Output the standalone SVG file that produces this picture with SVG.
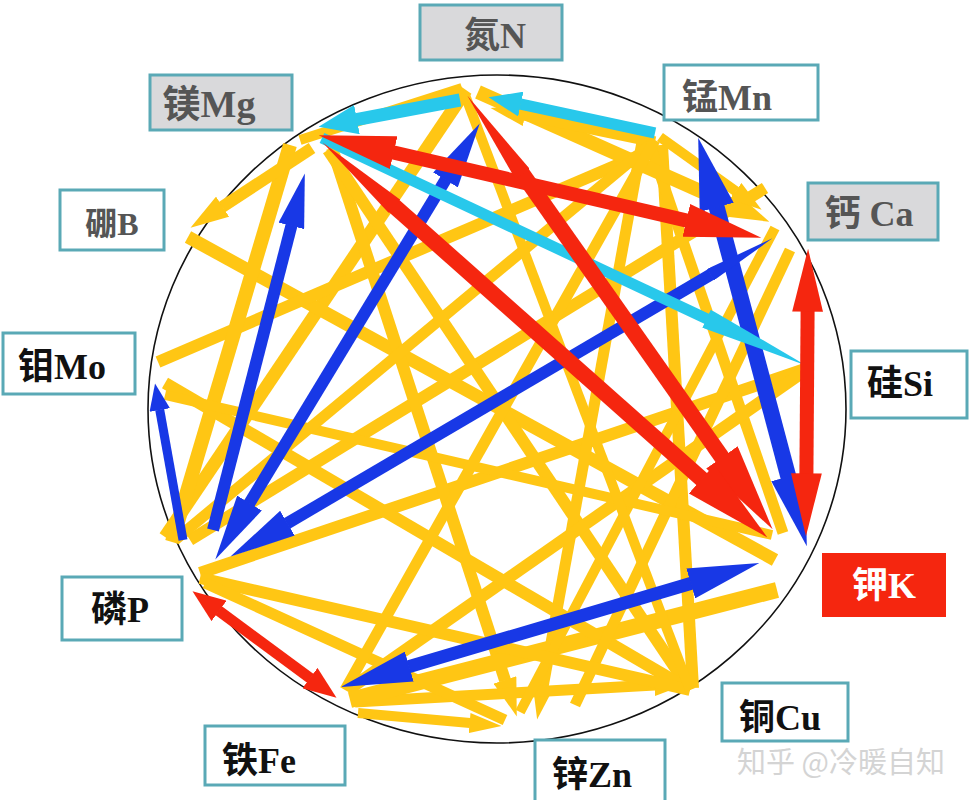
<svg xmlns="http://www.w3.org/2000/svg" width="969" height="800" viewBox="0 0 969 800">
<style>
.y{stroke:#FFC614;fill:none}
.r{stroke:#F5260F;fill:none}
.b{stroke:#1838E6;fill:none}
.c{stroke:#28C8EB;fill:none}
.box{stroke:#5AA9B6;stroke-width:3}
.grey{fill:#D9D9DB}
.white{fill:#FFFFFF}
.lbl{font-family:"Liberation Serif","Noto Sans CJK SC",serif;font-weight:bold;font-size:36px;text-anchor:middle}
.dk{fill:#555555}
.bk{fill:#111111}
</style>
<defs>
<marker id="mY" viewBox="0 -1 3.2 2" refX="0.05" refY="0" markerWidth="3.2" markerHeight="2" markerUnits="strokeWidth" orient="auto-start-reverse"><path d="M0,-1 L3.2,0 L0,1 Z" fill="#FFC614"/></marker>
<marker id="rB" viewBox="0 -1.2 5.5 2.4" refX="0.05" refY="0" markerWidth="5.5" markerHeight="2.4" markerUnits="strokeWidth" orient="auto-start-reverse"><path d="M0,-1.2 L5.5,0 L0,1.2 Z" fill="#F5260F"/></marker>
<marker id="rT" viewBox="0 -0.55 6 1.1" refX="0.05" refY="0" markerWidth="6" markerHeight="1.1" markerUnits="strokeWidth" orient="auto-start-reverse"><path d="M0,-0.55 L6,0 L0,0.55 Z" fill="#F5260F"/></marker>
<marker id="rA" viewBox="0 -1.1 4.5 2.2" refX="0.05" refY="0" markerWidth="4.5" markerHeight="2.2" markerUnits="strokeWidth" orient="auto-start-reverse"><path d="M0,-1.1 L4.5,0 L0,1.1 Z" fill="#F5260F"/></marker>
<marker id="rS" viewBox="0 -1.15 3 2.3" refX="0.05" refY="0" markerWidth="3" markerHeight="2.3" markerUnits="strokeWidth" orient="auto-start-reverse"><path d="M0,-1.15 L3,0 L0,1.15 Z" fill="#F5260F"/></marker>
<marker id="bA" viewBox="0 -1.1 4.5 2.2" refX="0.05" refY="0" markerWidth="4.5" markerHeight="2.2" markerUnits="strokeWidth" orient="auto-start-reverse"><path d="M0,-1.1 L4.5,0 L0,1.1 Z" fill="#1838E6"/></marker>
<marker id="bB" viewBox="0 -1.2 5.5 2.4" refX="0.05" refY="0" markerWidth="5.5" markerHeight="2.4" markerUnits="strokeWidth" orient="auto-start-reverse"><path d="M0,-1.2 L5.5,0 L0,1.2 Z" fill="#1838E6"/></marker>
<marker id="bT" viewBox="0 -0.55 6 1.1" refX="0.05" refY="0" markerWidth="6" markerHeight="1.1" markerUnits="strokeWidth" orient="auto-start-reverse"><path d="M0,-0.55 L6,0 L0,0.55 Z" fill="#1838E6"/></marker>
<marker id="bS" viewBox="0 -1.15 3 2.3" refX="0.05" refY="0" markerWidth="3" markerHeight="2.3" markerUnits="strokeWidth" orient="auto-start-reverse"><path d="M0,-1.15 L3,0 L0,1.15 Z" fill="#1838E6"/></marker>
<marker id="cS" viewBox="0 -1.15 3 2.3" refX="0.05" refY="0" markerWidth="3" markerHeight="2.3" markerUnits="strokeWidth" orient="auto-start-reverse"><path d="M0,-1.15 L3,0 L0,1.15 Z" fill="#28C8EB"/></marker>
<marker id="cL" viewBox="0 -0.9 10 1.8" refX="0.05" refY="0" markerWidth="10" markerHeight="1.8" markerUnits="strokeWidth" orient="auto-start-reverse"><path d="M0,-0.9 L10,0 L0,0.9 Z" fill="#28C8EB"/></marker>
</defs>
<rect x="0" y="0" width="969" height="800" fill="#FFFFFF"/>
<ellipse id="circle" cx="497" cy="409" rx="349" ry="334" fill="none" stroke="#111" stroke-width="1.6"/>
<g id="connectors">
<g id="yellow">
<line class="y" stroke-width="13" x1="165" y1="537" x2="466" y2="90"/>
<line class="y" stroke-width="12" x1="190" y1="540" x2="765" y2="188"/>
<line class="y" stroke-width="12" x1="200" y1="573" x2="808" y2="368"/>
<line class="y" stroke-width="13" x1="188" y1="237" x2="775" y2="560"/>
<line class="y" stroke-width="12" x1="158" y1="362" x2="652" y2="150"/>
<line class="y" stroke-width="14" x1="290" y1="145" x2="172" y2="542"/>
<line class="y" stroke-width="12" x1="312" y1="148" x2="222.1" y2="207" marker-end="url(#mY)"/>
<line class="y" stroke-width="12" x1="332" y1="148" x2="505.1" y2="680.5" marker-end="url(#mY)"/>
<line class="y" stroke-width="12" x1="328" y1="150" x2="690" y2="690"/>
<line class="y" stroke-width="11" x1="642" y1="142" x2="543.3" y2="685.4" marker-end="url(#mY)"/>
<line class="y" stroke-width="12" x1="662" y1="145" x2="693" y2="688"/>
<line class="y" stroke-width="11" x1="650" y1="145" x2="783" y2="533"/>
<line class="y" stroke-width="12" x1="348" y1="690" x2="806" y2="370"/>
<line class="y" stroke-width="10" x1="358" y1="713" x2="470.1" y2="723.1" marker-end="url(#mY)"/>
<line class="y" stroke-width="11" x1="355" y1="702" x2="654.9" y2="685" marker-end="url(#mY)"/>
<line class="y" stroke-width="16" x1="350" y1="700" x2="777" y2="590"/>
<line class="y" stroke-width="12" x1="165" y1="383" x2="690" y2="690"/>
<line class="y" stroke-width="14" x1="478" y1="92" x2="729.1" y2="203.8" marker-end="url(#mY)"/>
<line class="y" stroke-width="10" x1="660" y1="137" x2="736" y2="191.4" marker-end="url(#mY)"/>
<line class="y" stroke-width="10" x1="462" y1="88" x2="300" y2="140"/>
<line class="y" stroke-width="11" x1="655" y1="142" x2="524.5" y2="115.1" marker-end="url(#mY)"/>
<line class="y" stroke-width="11" x1="790" y1="250" x2="575" y2="705"/>
<line class="y" stroke-width="10" x1="775" y1="228" x2="520" y2="712"/>
<line class="y" stroke-width="12" x1="200" y1="578" x2="690" y2="690"/>
<line class="y" stroke-width="11" x1="205" y1="583" x2="505" y2="720"/>
<line class="y" stroke-width="10" x1="165" y1="395" x2="772" y2="535"/>
<line class="y" stroke-width="11" x1="175" y1="540" x2="650" y2="145"/>
<line class="y" stroke-width="11" x1="655" y1="140" x2="345" y2="690"/>
<line class="y" stroke-width="10" x1="465" y1="95" x2="690" y2="690"/>
</g>
<g id="blue">
<line class="b" stroke-width="16" x1="716.5" y1="206.6" x2="788.5" y2="477.4" marker-start="url(#bA)" marker-end="url(#bA)"/>
<line class="b" stroke-width="13" x1="408.6" y1="666.8" x2="691.4" y2="583.2" marker-start="url(#bB)" marker-end="url(#bB)"/>
<line class="b" stroke-width="9" x1="183" y1="540" x2="159.7" y2="409.6" marker-end="url(#bS)"/>
<line class="b" stroke-width="12" x1="213" y1="530" x2="291.5" y2="225.3" marker-end="url(#bA)"/>
<line class="b" stroke-width="12" x1="445.8" y1="179.4" x2="249.2" y2="503.6" marker-start="url(#bB)" marker-end="url(#bB)"/>
<line class="b" stroke-width="12" x1="710.9" y1="274.5" x2="286.9" y2="523.5" marker-start="url(#bT)" marker-end="url(#bB)"/>
</g>
<g id="cyan">
<line class="c" stroke-width="13" x1="460" y1="100" x2="356.3" y2="119.7" marker-end="url(#cS)"/>
<line class="c" stroke-width="11" x1="655" y1="133" x2="520.3" y2="104" marker-end="url(#cS)"/>
<line class="c" stroke-width="11" x1="322" y1="138" x2="707.1" y2="318.9" marker-end="url(#cL)"/>
</g>
<g id="red">
<line class="r" stroke-width="14" x1="393" y1="152.4" x2="687" y2="220.6" marker-start="url(#rB)" marker-end="url(#rB)"/>
<line class="r" stroke-width="16" x1="522.2" y1="173.5" x2="722.4" y2="458" marker-start="url(#rT)" marker-end="url(#rB)"/>
<line class="r" stroke-width="16" x1="393.8" y1="205.7" x2="702.2" y2="479.6" marker-start="url(#rT)" marker-end="url(#rB)"/>
<line class="r" stroke-width="14" x1="807.6" y1="311" x2="806.4" y2="474" marker-start="url(#rA)" marker-end="url(#rA)"/>
<line class="r" stroke-width="11" x1="218.6" y1="610.6" x2="310.4" y2="678.4" marker-start="url(#rS)" marker-end="url(#rS)"/>
</g>
</g>
<g id="node-N"><rect class="box grey" x="420" y="5" width="142" height="55"/><text class="lbl dk" x="495" y="48">氮N</text></g>
<g id="node-Mg"><rect class="box grey" x="150" y="75" width="142" height="55"/><text class="lbl dk" x="209" y="117" style="font-size:38px">镁Mg</text></g>
<g id="node-Mn"><rect class="box white" x="664" y="65" width="154" height="55"/><text class="lbl dk" x="727" y="110">锰Mn</text></g>
<g id="node-Ca"><rect class="box grey" x="808" y="183" width="130" height="57"/><text class="lbl dk" x="869" y="226">钙 Ca</text></g>
<g id="node-B"><rect class="box white" x="60" y="190" width="104" height="60"/><text class="lbl dk" x="112" y="235" style="font-size:32px">硼B</text></g>
<g id="node-Mo"><rect class="box white" x="3" y="333" width="132" height="61"/><text class="lbl bk" x="62" y="379">钼Mo</text></g>
<g id="node-Si"><rect class="box white" x="851" y="351" width="116" height="67"/><text class="lbl bk" x="900" y="396">硅Si</text></g>
<g id="node-K"><rect x="822" y="553" width="124" height="64" fill="#F5260F"/><text class="lbl" x="884" y="598" fill="#FFFFFF">钾K</text></g>
<g id="node-P"><rect class="box white" x="62" y="577" width="120" height="63"/><text class="lbl bk" x="120" y="622">磷P</text></g>
<g id="node-Fe"><rect class="box white" x="205" y="726" width="140" height="59"/><text class="lbl bk" x="259" y="773">铁Fe</text></g>
<g id="node-Zn"><rect class="box white" x="535" y="740" width="130" height="62"/><text class="lbl bk" x="592" y="787">锌Zn</text></g>
<g id="node-Cu"><rect class="box white" x="722" y="683" width="126" height="58"/><text class="lbl bk" x="780" y="730">铜Cu</text></g>
<text id="watermark" x="737" y="773" font-family="'Noto Sans CJK SC',sans-serif" font-size="29" fill="#D4D4D4">知乎 @冷暖自知</text>
</svg>
